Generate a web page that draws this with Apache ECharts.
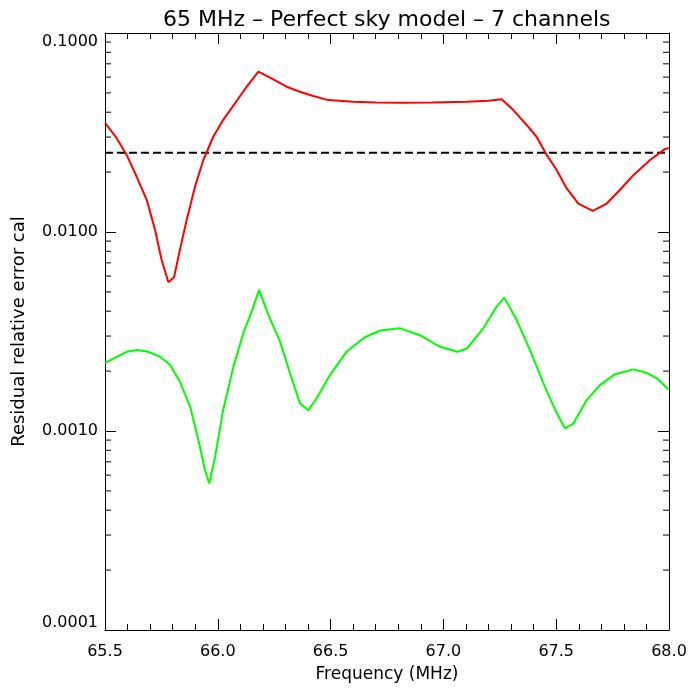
<!DOCTYPE html>
<html>
<head>
<meta charset="utf-8">
<script src="https://cdn.jsdelivr.net/npm/echarts@6/dist/echarts.min.js"></script>
<style>
  html, body { margin: 0; padding: 0; background: #fff; }
  #chart { width: 700px; height: 700px; }
</style>
</head>
<body>
<div id="chart"></div>
<script>
// values
var xMin = 65.5, xMax = 68.0;
var yMin = 0.0001, yMax = 0.1;
var threshold = 0.025;

var redFreq = [65.50, 65.552, 65.596, 65.64, 65.685, 65.722, 65.751, 65.781, 65.806, 65.832,
  65.862, 65.899, 65.936, 65.98, 66.024, 66.076, 66.128, 66.18, 66.246, 66.305, 66.364,
  66.423, 66.49, 66.6, 66.7, 66.808, 66.95, 67.103, 67.199, 67.258, 67.31, 67.369, 67.413,
  67.458, 67.502, 67.546, 67.598, 67.662, 67.724, 67.783, 67.842, 67.916, 67.982, 68.0];
var redVal = [0.0354, 0.0296, 0.0244, 0.0190, 0.0145, 0.01024, 0.00723, 0.00559, 0.00592, 0.00813,
  0.01148, 0.0169, 0.0230, 0.0301, 0.0366, 0.0443, 0.0537, 0.0639, 0.0585, 0.0537, 0.0507,
  0.0482, 0.0460, 0.0452, 0.0448, 0.0446, 0.0448, 0.0452, 0.0457, 0.0465, 0.0410, 0.0345, 0.0301,
  0.0244, 0.0205, 0.0166, 0.0139, 0.01276, 0.0139, 0.0163, 0.0193, 0.0230, 0.0261, 0.0264];

var greenFreq = [65.50, 65.552, 65.596, 65.643, 65.692, 65.744, 65.788, 65.832, 65.877, 65.914,
  65.943, 65.962, 65.988, 66.024, 66.069, 66.113, 66.15, 66.183, 66.224, 66.276, 66.32,
  66.364, 66.401, 66.438, 66.497, 66.57, 66.65, 66.72, 66.808, 66.896, 66.985, 67.062,
  67.103, 67.177, 67.236, 67.27, 67.325, 67.384, 67.443, 67.495, 67.539, 67.576, 67.635,
  67.694, 67.761, 67.842, 67.901, 67.946, 67.997];
var greenVal = [0.00220, 0.00236, 0.00250, 0.00255, 0.00250, 0.00236, 0.00215, 0.00177, 0.00133, 0.000901,
  0.000637, 0.000545, 0.000743, 0.00128, 0.00210, 0.00310, 0.00398, 0.00512, 0.00383, 0.00281, 0.00195,
  0.00138, 0.00127, 0.00146, 0.00191, 0.00250, 0.00295, 0.00320, 0.00328, 0.00303, 0.00265, 0.00250,
  0.00259, 0.00328, 0.00422, 0.00468, 0.00361, 0.00255, 0.00174, 0.00128, 0.00103, 0.00109, 0.00143,
  0.00170, 0.00193, 0.00204, 0.00196, 0.00184, 0.00162];

var yTickLabels = ['0.0001', '0.0010', '0.0100', '0.1000'];
var minorVals = [];
[0.0001, 0.001, 0.01].forEach(function (d) {
  for (var k = 2; k <= 9; k++) minorVals.push(d * k);
});

function zip(a, b) {
  return a.map(function (v, i) { return [v, b[i]]; });
}

var fontName = 'DejaVu Sans';
var chart = echarts.init(document.getElementById('chart'));

var xAxisBase = {
  type: 'value', min: xMin, max: xMax, interval: 0.5,
  axisLine: { lineStyle: { color: '#000', width: 1 } },
  axisTick: { inside: true, length: 11, lineStyle: { color: '#000' } },
  minorTick: { show: true, splitNumber: 5, length: 6, lineStyle: { color: '#000' } },
  splitLine: { show: false }
};
var yAxisBase = {
  type: 'log', logBase: 10, min: yMin, max: yMax,
  axisLine: { show: true, lineStyle: { color: '#000', width: 1 } },
  axisTick: { show: true, inside: true, length: 11, lineStyle: { color: '#000' } },
  splitLine: { show: false }
};

var option = {
  backgroundColor: '#fff',
  animation: false,
  title: {
    text: '65 MHz \u2013 Perfect sky model \u2013 7 channels',
    left: 158, top: 4,
    textStyle: { fontFamily: fontName, fontSize: 22, fontWeight: 'normal', color: '#000' }
  },
  grid: { left: 105, right: 31, top: 33, bottom: 70 },
  xAxis: [
    Object.assign({}, xAxisBase, {
      position: 'bottom',
      name: 'Frequency (MHz)', nameLocation: 'middle', nameGap: 36,
      nameTextStyle: { fontFamily: fontName, fontSize: 17, color: '#000' },
      axisLabel: {
        margin: 14, color: '#000', fontFamily: fontName, fontSize: 16,
        formatter: function (v) { return v.toFixed(1); }
      }
    }),
    Object.assign({}, xAxisBase, { position: 'top', axisLabel: { show: false } })
  ],
  yAxis: [
    Object.assign({}, yAxisBase, {
      position: 'left',
      name: 'Residual relative error cal', nameLocation: 'middle', nameGap: 77,
      nameTextStyle: { fontFamily: fontName, fontSize: 18, color: '#000' },
      axisLabel: {
        margin: 7, color: '#000', fontFamily: fontName, fontSize: 16,
        formatter: function (v) {
          var i = Math.round(Math.log10(v) + 4);
          var s = yTickLabels[i] !== undefined ? yTickLabels[i] : v.toFixed(4);
          if (i === 3) return '{hi|' + s + '}';
          if (i === 0) return '{lo|' + s + '}';
          return s;
        },
        rich: {
          hi: { fontFamily: fontName, fontSize: 16, color: '#000', padding: [18, 0, 0, 0] },
          lo: { fontFamily: fontName, fontSize: 16, color: '#000', padding: [0, 0, 14, 0] }
        }
      }
    }),
    Object.assign({}, yAxisBase, { position: 'right', axisLabel: { show: false } })
  ],
  series: [
    {
      type: 'line', name: 'cal', data: zip(redFreq, redVal), showSymbol: false,
      lineStyle: { color: '#ff0000', width: 2 }, z: 3
    },
    {
      type: 'line', name: 'noise', data: zip(greenFreq, greenVal), showSymbol: false,
      lineStyle: { color: '#00ff00', width: 2 }, z: 3
    },
    {
      type: 'line', name: 'limit', data: [[xMin, threshold], [xMax, threshold]], showSymbol: false,
      lineStyle: { color: '#000', width: 2, type: [8, 4] }, z: 2
    },
    {
      // minor log ticks (2..9 per decade) on both vertical edges
      type: 'custom', name: 'minorTicks', silent: true, clip: false,
      data: minorVals.map(function (v) { return [v]; }),
      renderItem: function (params, api) {
        var v = api.value(0);
        var pl = api.coord([xMin, v]);
        var pr = api.coord([xMax, v]);
        var st = { stroke: '#000', lineWidth: 1 };
        return {
          type: 'group',
          children: [
            { type: 'line', shape: { x1: pl[0], y1: pl[1], x2: pl[0] + 6, y2: pl[1] }, style: st },
            { type: 'line', shape: { x1: pr[0], y1: pr[1], x2: pr[0] - 6, y2: pr[1] }, style: st }
          ]
        };
      },
      encode: { y: 0 }
    }
  ]
};

chart.setOption(option);
</script>
</body>
</html>
